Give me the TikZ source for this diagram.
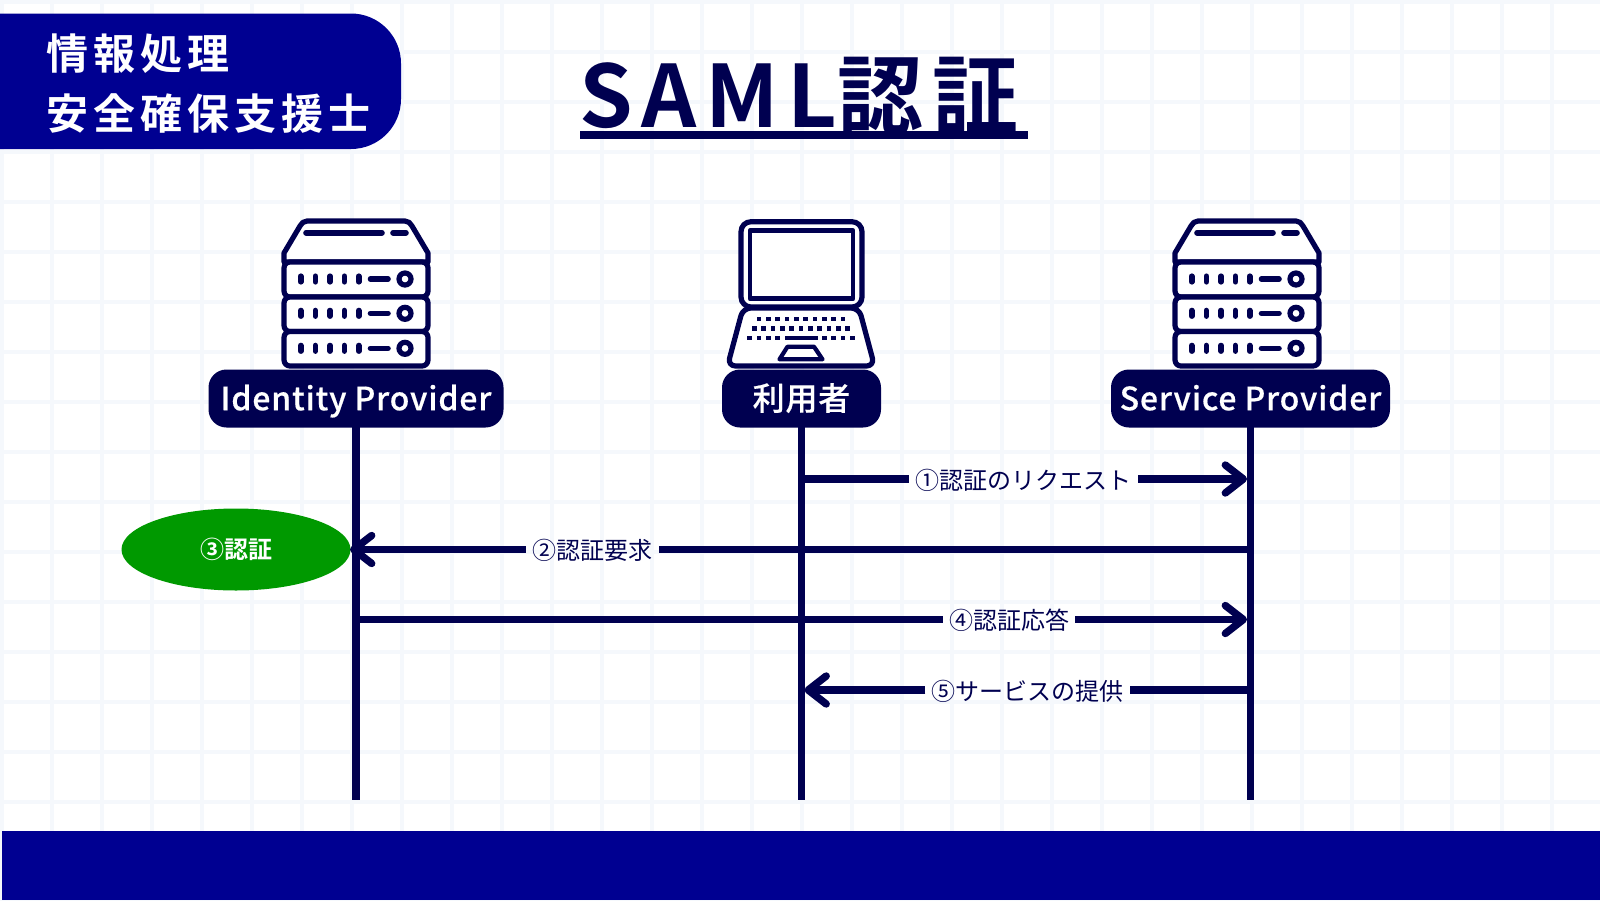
\documentclass[tikz,border=0pt]{standalone}
\usepackage{fontspec}
\usetikzlibrary{arrows.meta,shapes.geometric}
\newfontfamily\cjkreg{Noto Sans CJK JP}
\newfontfamily\cjkbold{Noto Sans CJK JP Bold}
\newfontfamily\cjktitle{Noto Sans CJK JP Bold}[LetterSpace=10]
\newfontfamily\cjkbanner{Noto Sans CJK JP Bold}[LetterSpace=12]
\newfontfamily\cjkpill{Noto Sans CJK JP Medium}[LetterSpace=2.6,FakeBold=0.4]
\definecolor{navy}{HTML}{000050}
\definecolor{bandblue}{HTML}{000091}
\definecolor{gridc}{HTML}{F5F8FC}
\definecolor{okgreen}{HTML}{009900}
\tikzset{
  icon/.style={draw=navy,line width=2.6pt,line join=round,line cap=round,fill=white},
  iconline/.style={draw=navy,line width=2.8pt,line cap=round},
  pill/.style={fill=navy,text=white,rounded corners=9pt,minimum height=29pt,inner sep=0pt,text height=11.7pt,text depth=0pt,font=\cjkpill\fontsize{16}{16}\selectfont},
  lifeline/.style={draw=navy,line width=3.9pt},
  msg/.style={draw=navy,line width=3.7pt},
  msgtip/.style={-{Straight Barb[length=9pt,width=14pt,round,line width=3.7pt]}},
  msglabel/.style={text=navy,inner xsep=3pt,inner ysep=1pt,font=\cjkreg\fontsize{12}{12}\selectfont},
  bandfill/.style={fill=bandblue,draw=none},
  bannertext/.style={anchor=west,text=white,font=\cjkbanner\fontsize{21}{21}\selectfont,inner sep=0pt},
}
\newcommand{\serverdots}[1]{%
  \foreach \dx in {300.7,315.3,330,344.3,358.7}{
    \draw[navy,line width=2.8pt,line cap=round] (\dx,#1-2.8) -- (\dx,#1+2.8);}
  \draw[iconline] (370.5,#1) -- (388,#1);
  \draw[navy,line width=2.6pt] (405,#1) circle[radius=6];
}
\newcommand{\servericon}{%
  \draw[icon] (284,262) -- (284,253) -- (300,226) to[out=60,in=180] (307,221) -- (405,221) to[out=0,in=120] (412,226) -- (428,253) -- (428,262) -- cycle;
  \draw[iconline] (306,232.7) -- (382,232.7);
  \draw[iconline] (393,232.7) -- (406,232.7);
  \draw[icon,rounded corners=3pt] (284,262) rectangle (428,297);
  \draw[icon,rounded corners=3pt] (284,297) rectangle (428,331.5);
  \draw[icon,rounded corners=3pt] (284,331.5) rectangle (428,366);
  \serverdots{279}\serverdots{313.3}\serverdots{348.3}
}
\begin{document}
\begin{tikzpicture}[x=0.5pt,y=-0.5pt]
\useasboundingbox (0,0) rectangle (1600,900);
\fill[white] (0,0) rectangle (1600,900);
% grid
\foreach \k in {0,...,32}{\fill[gridc] ({\k*50},0) rectangle ({\k*50+4},900);}
\foreach \k in {0,...,18}{\fill[gridc] (0,{\k*50}) rectangle (1600,{\k*50+4});}
% bands
\fill[bandfill] (2,830.5) rectangle (1600,900);
\fill[bandfill,rounded corners=25pt] (-60,13.5) -- (401,13.5) -- (401,149) -- (-60,149) -- cycle;
\node[bannertext] (bannerA) at (46,54) {情報処理};
\node[bannertext] (bannerB) at (46,113.5) {安全確保支援士};
% title
\node[anchor=center,text=navy,font=\cjktitle\fontsize{43}{43}\selectfont,inner sep=0pt] (title) at (799,96) {SAML\kern0.5pt 認証};
\fill[navy] (580,131) rectangle (1028.3,139.3);
% lifelines
\coordinate (idtop) at (356,420);
\coordinate (idbot) at (356,800);
\coordinate (usertop) at (801.5,420);
\coordinate (userbot) at (801.5,800);
\coordinate (sptop) at (1250.5,420);
\coordinate (spbot) at (1250.5,800);
\draw[lifeline] (idtop) -- (idbot);
\draw[lifeline] (usertop) -- (userbot);
\draw[lifeline] (sptop) -- (spbot);
% icons
\begin{scope}\servericon\end{scope}
\begin{scope}[xshift=445.5pt]\servericon\end{scope}
% laptop
\draw[icon,rounded corners=4pt] (800,308) -- (743,308) -- (727.5,366) -- (874.5,366) -- (859,308) -- cycle;
\draw[icon,rounded corners=5pt] (741,221.7) rectangle (862,307);
\draw[navy,line width=2.4pt,line join=round,fill=white] (750,230.7) rectangle (853,298.7);
\foreach \i in {0,...,9}{\fill[navy] ({759+\i*9.33-2.4},319-2.2) rectangle ++(4.8,4.4);}
\foreach \i in {0,...,10}{\fill[navy] ({754.3+\i*9.33-2.4},328.3-2.2) rectangle ++(4.8,4.4);}
\foreach \i in {0,...,3}{\fill[navy] ({749.7+\i*9.33-2.4},337.7-2.2) rectangle ++(4.8,4.4);}
\foreach \i in {0,...,3}{\fill[navy] ({824.3+\i*9.33-2.4},337.7-2.2) rectangle ++(4.8,4.4);}
\fill[navy] (785,335.5) rectangle (817.5,340);
\draw[navy,line width=2.1pt,line join=round] (787.5,346.7) -- (814,346.7) -- (822.5,359.3) -- (779.5,359.3) -- cycle;
% pills
\node[pill,minimum width=147.5pt] (idp) at (356,398.5) {Identity Provider};
\node[pill,minimum width=79.5pt] (user) at (801.5,398.5) {利用者};
\node[pill,minimum width=139.5pt] (sp) at (1250.5,398.5) {Service Provider};
% ellipse
\node[ellipse,fill=okgreen,text=white,minimum width=114.5pt,minimum height=41pt,inner sep=0pt,font=\cjkbold\fontsize{12}{12}\selectfont] (auth) at (236,549.5) {③認証};
% messages
\coordinate (m1a) at (801.5,479);\coordinate (m1b) at (1247,479);
\coordinate (m2a) at (1250.5,549.5);\coordinate (m2b) at (350,549.5);
\coordinate (m3a) at (356,619.5);\coordinate (m3b) at (1247,619.5);
\coordinate (m4a) at (1250.5,690);\coordinate (m4b) at (804.5,690);
\node[msglabel] (l1) at (1023.7,480.5) {①認証のリクエスト};
\node[msglabel] (l2) at (592.3,550.5) {②認証要求};
\node[msglabel] (l4) at (1009,620.5) {④認証応答};
\node[msglabel] (l5) at (1027.7,691.5) {⑤サービスの提供};
\draw[msg] (m1a) -- (l1.west |- m1a);
\draw[msg,msgtip] (l1.east |- m1a) -- (m1b);
\draw[msg] (m2a) -- (l2.east |- m2a);
\draw[msg,msgtip] (l2.west |- m2a) -- (m2b);
\draw[msg] (m3a) -- (l4.west |- m3a);
\draw[msg,msgtip] (l4.east |- m3a) -- (m3b);
\draw[msg] (m4a) -- (l5.east |- m4a);
\draw[msg,msgtip] (l5.west |- m4a) -- (m4b);
\end{tikzpicture}
\end{document}
